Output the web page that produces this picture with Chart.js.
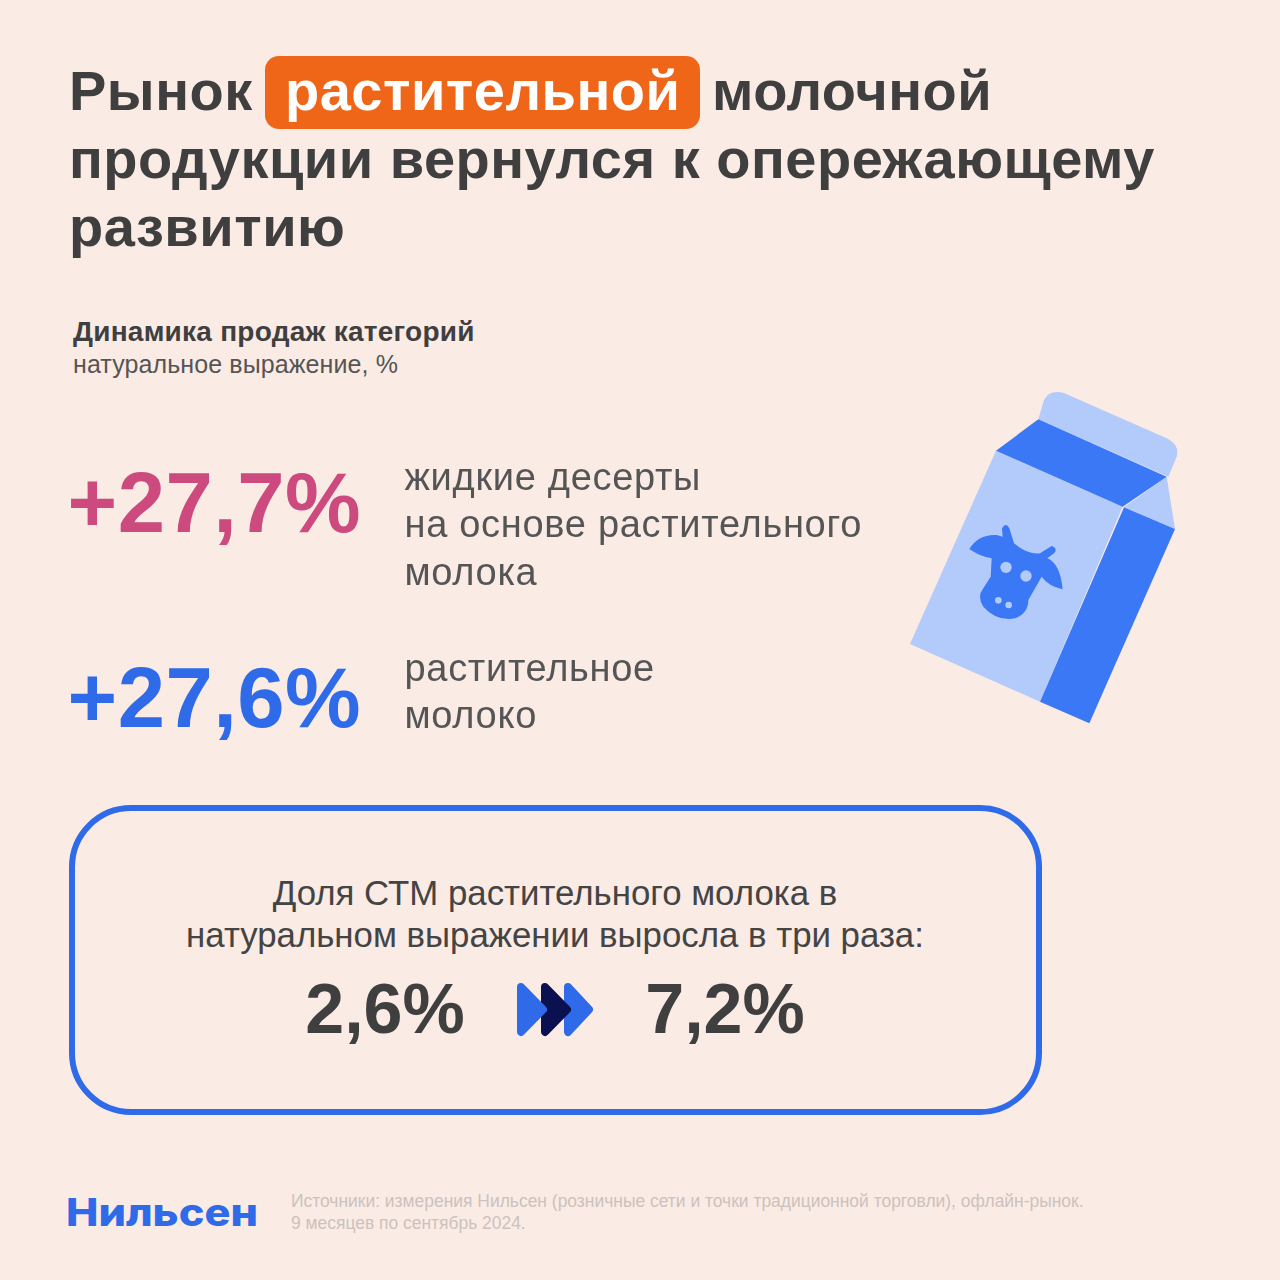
<!DOCTYPE html>
<html lang="ru">
<head>
<meta charset="utf-8">
<title>Рынок растительной молочной продукции</title>
<script src="https://cdn.jsdelivr.net/npm/chart.js@4"></script>
<style>
  html, body { margin: 0; padding: 0; }
  body { width: 1280px; height: 1280px; background: #fbebe5; position: relative; overflow: hidden;
         font-family: "Liberation Sans", Arial, sans-serif; color: #3f3f3f; }
  .t { position: absolute; line-height: 1; white-space: nowrap; }
  .title { font-size: 56px; font-weight: 700; letter-spacing: 0.5px; }
  #pill { position: absolute; left: 265px; top: 56px; width: 435px; height: 73px; border-radius: 14px; background: #ef6619; }
  #box { position: absolute; left: 69px; top: 805px; width: 961px; height: 298px; border: 6px solid #2f6be8; border-radius: 62px; }
  canvas, svg { position: absolute; }
  .note { font-size: 34.8px; left: 70px; width: 970px; text-align: center; color: #444; }
  .src { font-size: 17.45px; color: #cbc2bd; left: 291px; }
</style>
</head>
<body>
  <div id="pill"></div>
  <div class="t title" style="left:69px;top:63px">Рынок</div>
  <div class="t title" style="left:285px;top:63px;color:#fff">растительной</div>
  <div class="t title" style="left:712px;top:63px">молочной</div>
  <div class="t title" style="left:69px;top:131px">продукции вернулся к опережающему</div>
  <div class="t title" style="left:69px;top:199px">развитию</div>

  <div class="t" style="left:73px;top:318px;font-size:28px;font-weight:700;letter-spacing:0.25px">Динамика продаж категорий</div>
  <div class="t" style="left:73px;top:352px;font-size:25px;letter-spacing:0.1px;color:#555">натуральное выражение, %</div>

  <canvas id="statChart" width="900" height="390" style="left:0;top:401px"></canvas>

  <svg style="left:900px;top:380px" width="290" height="350" viewBox="0 0 870 1050">
    <path fill="#b2cbfa" d="M415 118 L432 60 Q445 30 490 38 L800 175 Q840 195 830 230 L805 290 Z"/>
    <polygon fill="#b2cbfa" points="288,212 668,380 420,965 30,792"/>
    <polygon fill="#b2cbfa" points="800,290 825,447 672,382"/>
    <polygon fill="#3b78f5" points="415,118 800,290 668,380 288,212"/>
    <polygon fill="#3b78f5" points="672,382 825,447 568,1030 420,965"/>
    <path fill="#3b78f5" d="M208 507 Q235 462 290 465 L308 470 L306 445 Q318 425 328 445 L342 490 Q385 525 420 520 L455 498 Q475 505 462 520 L442 535 Q480 550 488 628 Q445 618 425 590 L385 660 Q385 700 345 715 Q290 725 250 680 Q230 650 250 625 L272 590 L275 535 Q240 530 208 507 Z"/>
    <circle fill="#b2cbfa" cx="318" cy="562" r="17"/>
    <circle fill="#b2cbfa" cx="378" cy="588" r="17"/>
    <circle fill="#b2cbfa" cx="295" cy="661" r="10"/>
    <circle fill="#b2cbfa" cx="326" cy="675" r="10"/>
  </svg>

  <div id="box"></div>
  <div class="t note" style="top:876px">Доля СТМ растительного молока в</div>
  <div class="t note" style="top:918px">натуральном выражении выросла в три раза:</div>

  <canvas id="shareChart" width="680" height="100" style="left:215px;top:960px"></canvas>

  <svg style="left:490px;top:960px" width="130" height="90" viewBox="0 0 130 90" stroke-linejoin="round" stroke-width="8">
    <polygon fill="#2f6be8" stroke="#2f6be8" points="78,27 99,49.5 78,72"/>
    <polygon fill="#0b1050" stroke="#0b1050" points="55,27 77,49.5 55,72"/>
    <polygon fill="#2f6be8" stroke="#2f6be8" points="31,27 53,49.5 31,72"/>
  </svg>

  <div class="t" style="left:66px;top:1193px;font-family:Inter;font-weight:800;font-size:38px;color:#2f6be8;transform:scaleX(1.14);transform-origin:left">Нильсен</div>
  <div class="t src" style="top:1193px">Источники: измерения Нильсен (розничные сети и точки традиционной торговли), офлайн-рынок.</div>
  <div class="t src" style="top:1215px">9 месяцев по сентябрь 2024.</div>

<script>
const statValues = [27.7, 27.6];
const statCategories = [
  ['жидкие десерты', 'на основе растительного', 'молока'],
  ['растительное', 'молоко']
];
const statColors = ['#cc4a7e', '#2f6be8'];

const shareLabels = ['до', 'после'];
const shareValues = [2.6, 7.2];

function fmt(v) {
  return v.toFixed(1).replace('.', ',') + '%';
}

// bars stay invisible, the picture only shows the numbers placed by the scales
const statText = {
  id: 'statText',
  afterDatasetsDraw(chart) {
    const ctx = chart.ctx;
    const meta = chart.getDatasetMeta(0);
    ctx.save();
    ctx.textBaseline = 'alphabetic';
    meta.data.forEach((bar, i) => {
      const lines = statCategories[i];
      ctx.textAlign = 'left';
      ctx.fillStyle = statColors[i];
      ctx.font = 'bold 85px "Liberation Sans"';
      ctx.letterSpacing = '0.5px';
      ctx.fillText('+' + fmt(statValues[i]), chart.chartArea.left + 67.5, bar.y + 33.5);
      ctx.fillStyle = '#555';
      ctx.font = '38px "Liberation Sans"';
      ctx.letterSpacing = '0.7px';
      lines.forEach((line, j) => {
        ctx.fillText(line, chart.chartArea.left + 404.5, bar.y - 21 + 4 * lines.length + j * 47.5);
      });
    });
    ctx.restore();
  }
};

const shareText = {
  id: 'shareText',
  afterDatasetsDraw(chart) {
    const ctx = chart.ctx;
    ctx.save();
    ctx.textAlign = 'center';
    ctx.textBaseline = 'alphabetic';
    ctx.fillStyle = '#3f3f3f';
    ctx.font = 'bold 70px "Liberation Sans"';
    chart.getDatasetMeta(0).data.forEach((bar, i) => {
      ctx.fillText(fmt(shareValues[i]), bar.x, 73);
    });
    ctx.restore();
  }
};

function hiddenBar(id, labels, values, indexAxis, plugin) {
  return new Chart(document.getElementById(id).getContext('2d'), {
    type: 'bar',
    data: {
      labels,
      datasets: [{ data: values, backgroundColor: 'transparent', borderWidth: 0 }]
    },
    options: {
      indexAxis,
      responsive: false,
      animation: false,
      devicePixelRatio: 1,
      layout: { padding: 0 },
      scales: { x: { display: false }, y: { display: false } },
      plugins: { legend: { display: false }, tooltip: { enabled: false } }
    },
    plugins: [plugin]
  });
}

hiddenBar('statChart', statCategories.map(c => c.join(' ')), statValues, 'y', statText);
hiddenBar('shareChart', shareLabels, shareValues, 'x', shareText);
</script>
</body>
</html>
